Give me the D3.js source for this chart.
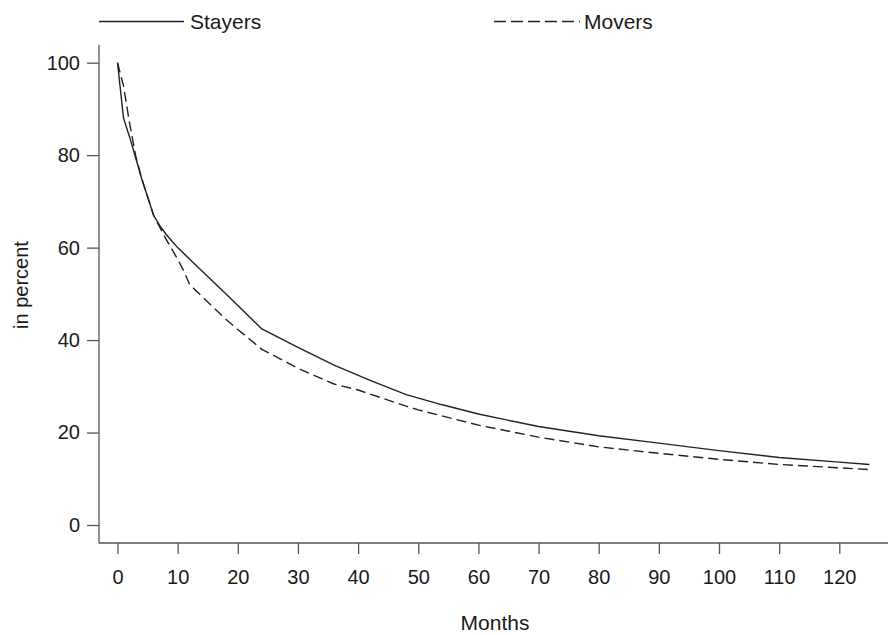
<!DOCTYPE html>
<html>
<head>
    <meta charset="utf-8" />
    <script src="https://d3js.org/d3.v7.min.js"></script>
    <style>
        body { margin: 0; background: #fff; }
        text { font-family: "Liberation Sans", Arial, Helvetica, sans-serif; fill: #1a1a1a; }
    </style>
</head>
<body>
<svg id="chart" width="891" height="635"></svg>
<script>
    // Survival curves (months, percent)
    const stayersMonths = [0, 1, 2, 3, 4, 5, 6, 7, 8, 9, 10, 12, 18, 24, 30, 36, 42, 48, 54, 60, 70, 80, 90, 100, 110, 120, 125];
    const stayersValues = [100, 88, 84, 79.5, 75, 71, 67, 64.8, 63, 61.5, 60, 57.5, 50, 42.4, 38.4, 34.6, 31.3, 28.2, 26, 24.0, 21.3, 19.3, 17.7, 16.1, 14.6, 13.6, 13.1];

    const moversMonths = [0, 1, 2, 3, 4, 5, 6, 7, 8, 10, 11, 12, 14, 18, 20, 24, 30, 36, 40, 48, 50, 60, 70, 80, 90, 100, 110, 125];
    const moversValues = [100, 95, 87, 80, 75, 71, 67, 64.5, 62, 57.5, 55, 52, 49.5, 44.5, 42.3, 38, 33.9, 30.5, 29.2, 25.7, 24.9, 21.6, 19.0, 16.9, 15.5, 14.2, 13.1, 12.0];

    const xTicks = [0, 10, 20, 30, 40, 50, 60, 70, 80, 90, 100, 110, 120];
    const yTicks = [0, 20, 40, 60, 80, 100];

    const svg = d3.select("#chart");

    // axis frame
    const frameLeft = 99, frameRight = 888, frameTop = 45, frameBottom = 543;

    const xScale = d3.scaleLinear()
        .domain([0, 120])
        .range([117.5, 839.3]);

    const yScale = d3.scaleLinear()
        .domain([0, 100])
        .range([525, 62.7]);

    // Y axis
    const yAxis = d3.axisLeft(yScale)
        .tickValues(yTicks)
        .tickSize(12)
        .tickPadding(7);

    const gy = svg.append("g")
        .attr("transform", `translate(${frameLeft},0)`)
        .call(yAxis);
    gy.select(".domain").remove();
    gy.append("line")
        .attr("x1", 0).attr("x2", 0)
        .attr("y1", frameTop).attr("y2", frameBottom)
        .attr("stroke", "#555").attr("stroke-width", 1.3);

    // X axis
    const xAxis = d3.axisBottom(xScale)
        .tickValues(xTicks)
        .tickSize(11)
        .tickPadding(16);

    const gx = svg.append("g")
        .attr("transform", `translate(0,${frameBottom})`)
        .call(xAxis);
    gx.select(".domain").remove();
    gx.append("line")
        .attr("x1", frameLeft).attr("x2", frameRight)
        .attr("y1", 0).attr("y2", 0)
        .attr("stroke", "#555").attr("stroke-width", 1.3);

    svg.selectAll(".tick line").attr("stroke", "#555").attr("stroke-width", 1.3);
    svg.selectAll(".tick text")
        .style("font-size", "20px")
        .style("font-family", "'Liberation Sans', Arial, sans-serif")
        .attr("fill", "#1a1a1a");

    // axis titles
    svg.append("text")
        .attr("x", 495)
        .attr("y", 630)
        .attr("text-anchor", "middle")
        .style("font-size", "21px")
        .text("Months");

    svg.append("text")
        .attr("transform", "translate(28,285) rotate(-90)")
        .attr("text-anchor", "middle")
        .style("font-size", "20px")
        .text("in percent");

    // lines
    const line = d3.line()
        .x(d => xScale(d[0]))
        .y(d => yScale(d[1]));

    const stayers = d3.zip(stayersMonths, stayersValues);
    const movers = d3.zip(moversMonths, moversValues);

    svg.append("path")
        .datum(movers)
        .attr("fill", "none")
        .attr("stroke", "#222")
        .attr("stroke-width", 1.4)
        .attr("stroke-dasharray", "10,5")
        .attr("d", line);

    svg.append("path")
        .datum(stayers)
        .attr("fill", "none")
        .attr("stroke", "#222")
        .attr("stroke-width", 1.4)
        .attr("d", line);

    // legend
    svg.append("line")
        .attr("x1", 99).attr("x2", 184)
        .attr("y1", 21.5).attr("y2", 21.5)
        .attr("stroke", "#222").attr("stroke-width", 1.4);
    svg.append("text")
        .attr("x", 190)
        .attr("y", 29)
        .style("font-size", "21px")
        .text("Stayers");

    svg.append("line")
        .attr("x1", 494).attr("x2", 580)
        .attr("y1", 21.5).attr("y2", 21.5)
        .attr("stroke", "#222").attr("stroke-width", 1.4)
        .attr("stroke-dasharray", "12,5");
    svg.append("text")
        .attr("x", 584)
        .attr("y", 29)
        .style("font-size", "21px")
        .text("Movers");
</script>
</body>
</html>
